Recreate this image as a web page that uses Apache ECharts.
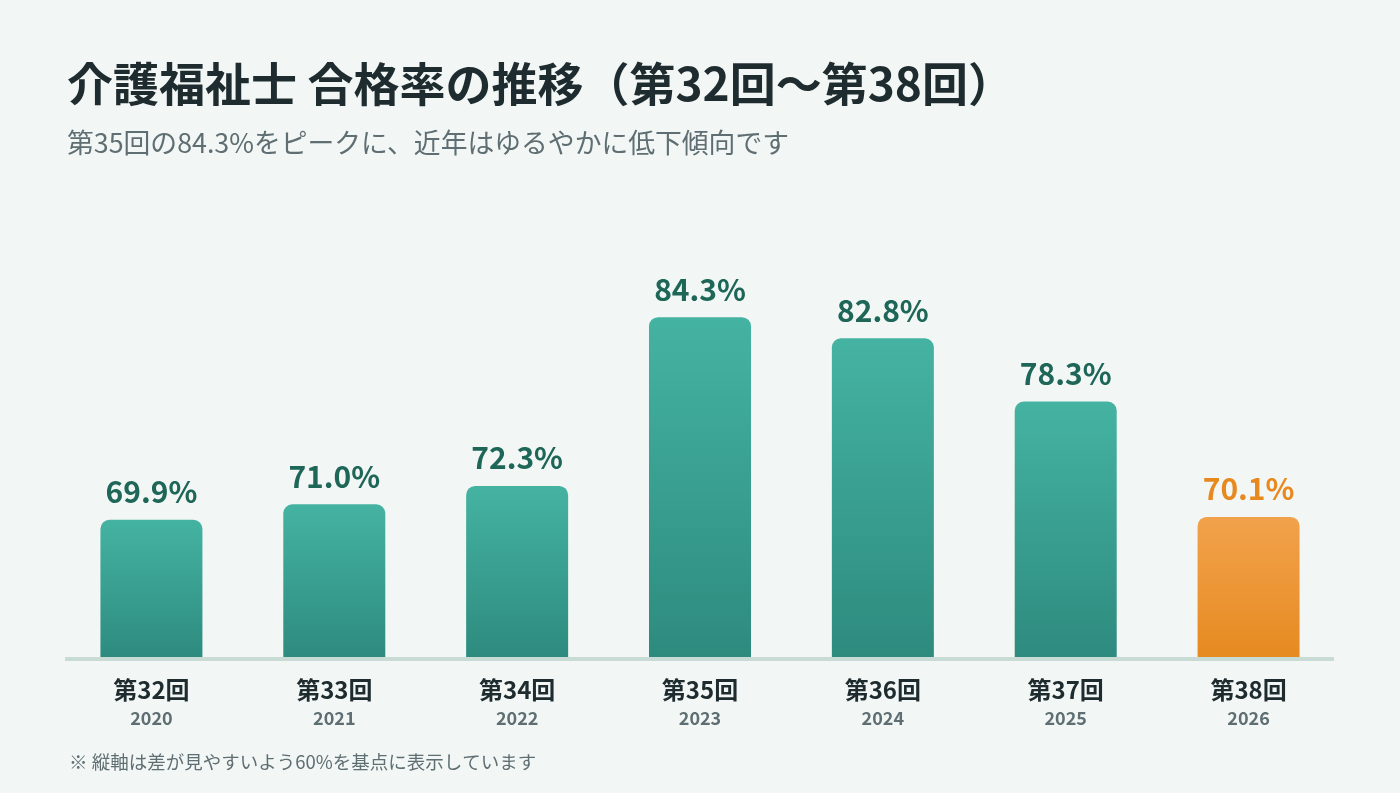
<!DOCTYPE html>
<html>
<head>
<meta charset="utf-8">
<script src="https://cdn.jsdelivr.net/npm/echarts@6/dist/echarts.min.js"></script>
<style>
  html, body { margin: 0; padding: 0; background: #f2f7f5; }
  #chart { width: 1400px; height: 793px; }
</style>
</head>
<body>
<div id="chart"></div>
<script>
const rounds = ["第32回", "第33回", "第34回", "第35回", "第36回", "第37回", "第38回"];
const years = ["2020", "2021", "2022", "2023", "2024", "2025", "2026"];
const passRates = [69.9, 71.0, 72.3, 84.3, 82.8, 78.3, 70.1];
const highlightIndex = 6;

const font = "'Noto Sans CJK JP', 'Noto Sans', sans-serif";

const tealGrad = new echarts.graphic.LinearGradient(0, 0, 0, 1, [
  { offset: 0, color: "#45b3a2" },
  { offset: 1, color: "#2d8b7e" },
]);
const orangeGrad = new echarts.graphic.LinearGradient(0, 0, 0, 1, [
  { offset: 0, color: "#f2a24c" },
  { offset: 1, color: "#e68a20" },
]);

const chart = echarts.init(document.getElementById("chart"));
chart.setOption({
  backgroundColor: "#f2f7f5",
  textStyle: { fontFamily: font },
  title: [
    {
      text: "介護福祉士 合格率の推移（第32回〜第38回）",
      subtext: "第35回の84.3%をピークに、近年はゆるやかに低下傾向です",
      left: 62,
      top: 56,
      itemGap: 22,
      textStyle: { fontFamily: font, fontSize: 46, fontWeight: "bold", color: "#1e2b2f" },
      subtextStyle: { fontFamily: font, fontSize: 26.8, color: "#5f6e72" },
    },
    {
      text: "※ 縦軸は差が見やすいよう60%を基点に表示しています",
      left: 64,
      top: 748,
      textStyle: { fontFamily: font, fontSize: 18.5, fontWeight: "normal", color: "#5f6e72" },
    },
  ],
  grid: { left: 60, right: 60, top: 237, bottom: 134 },
  xAxis: {
    type: "category",
    data: rounds,
    axisTick: { show: false },
    axisLine: { show: false },
    axisLabel: {
      margin: 16,
      interval: 0,
      formatter: (v, i) => "{r|" + v + "}\n{y|" + years[i] + "}",
      rich: {
        r: { fontFamily: font, fontSize: 24, fontWeight: "bold", color: "#1e2b2f", lineHeight: 30 },
        y: { fontFamily: font, fontSize: 18, fontWeight: "bold", color: "#5f6e72", lineHeight: 26 },
      },
    },
  },
  yAxis: {
    type: "value",
    min: 60,
    max: 90,
    show: false,
    splitLine: { show: false },
  },
  series: [
    {
      type: "bar",
      barWidth: 102,
      data: passRates.map((v, i) => ({
        value: v,
        itemStyle: { color: i === highlightIndex ? orangeGrad : tealGrad },
        label: { color: i === highlightIndex ? "#e8891f" : "#1e6657" },
      })),
      itemStyle: { borderRadius: [9, 9, 0, 0] },
      label: {
        show: true,
        position: "top",
        distance: 13,
        formatter: (p) => p.value.toFixed(1) + "%",
        fontFamily: font,
        fontSize: 30,
        fontWeight: "bold",
      },
    },
  ],
});

// baseline drawn on top of the bars, slightly inset from the grid edges
const baseY = chart.convertToPixel({ yAxisIndex: 0 }, 60);
chart.setOption({
  graphic: [
    {
      type: "rect",
      shape: { x: 65, y: baseY - 2, width: 1269, height: 4 },
      style: { fill: "#c8dcd5" },
      z: 100,
    },
  ],
});

window.addEventListener("resize", () => chart.resize());
</script>
</body>
</html>
